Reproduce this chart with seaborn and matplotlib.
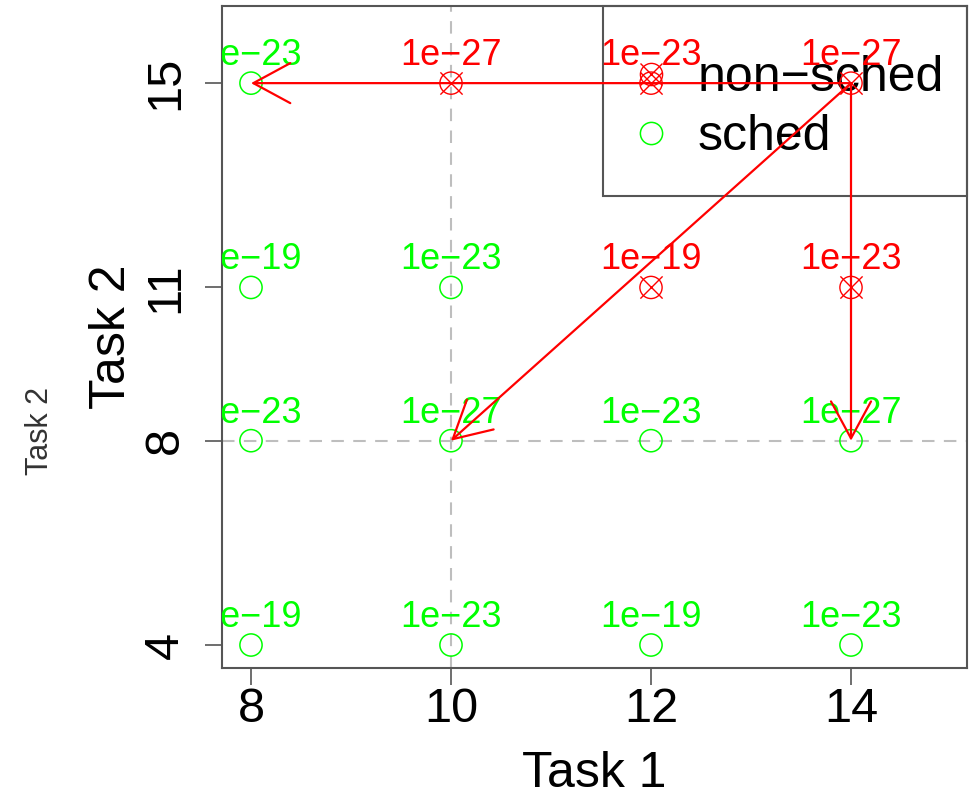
import matplotlib
matplotlib.use("Agg")
import matplotlib.pyplot as plt
from matplotlib.lines import Line2D
from matplotlib.patches import Rectangle
from matplotlib.legend_handler import HandlerTuple
import seaborn as sns
import pandas as pd

sns.set_style("ticks")
plt.rcParams['font.family'] = ['Liberation Sans', 'DejaVu Sans']
plt.rcParams['text.color'] = 'black'
plt.rcParams['axes.labelcolor'] = 'black'

# ---- data ----
sched_x = [8, 8, 8, 8, 10, 10, 10, 12, 12, 14, 14]
sched_y = [15, 11, 8, 4, 11, 8, 4, 8, 4, 8, 4]
sched_lab = ['1e\u221223', '1e\u221219', '1e\u221223', '1e\u221219', '1e\u221223', '1e\u221227',
             '1e\u221223', '1e\u221223', '1e\u221219', '1e\u221227', '1e\u221223']
nonsched_x = [10, 12, 14, 12, 14]
nonsched_y = [15, 15, 15, 11, 11]
nonsched_lab = ['1e\u221227', '1e\u221223', '1e\u221227', '1e\u221219', '1e\u221223']
arrow_start = (14, 15)
arrow_ends = [(8, 15), (10, 8), (14, 8)]
ref_x = 10
ref_y = 8
x_ticks = [8, 10, 12, 14]
y_ticks = [4, 8, 11, 15]
legend_labels = ['non\u2212sched', 'sched']

GREEN = '#00FF00'
RED = '#FF0000'

W, H = 969, 796
fig = plt.figure(figsize=(W / 100, H / 100), dpi=100)
ax = fig.add_axes([222 / W, (H - 668) / H, (967 - 222) / W, (668 - 6) / H])

sched_df = pd.DataFrame({'x': sched_x, 'y': sched_y, 'lab': sched_lab})
non_df = pd.DataFrame({'x': nonsched_x, 'y': nonsched_y, 'lab': nonsched_lab})

# reference lines
ax.axvline(ref_x, color='#BEBEBE', lw=1.5, ls=(0, (6, 4.5)), zorder=1)
ax.axhline(ref_y, color='#BEBEBE', lw=1.5, ls=(0, (6, 4.5)), zorder=1)

ms = 16  # marker size in points
sns.scatterplot(data=sched_df, x='x', y='y', marker='o', s=ms ** 2, color='none',
                edgecolor=GREEN, linewidth=1.1, ax=ax, zorder=4, legend=False)
sns.scatterplot(data=non_df, x='x', y='y', marker='o', s=ms ** 2, color='none',
                edgecolor=RED, linewidth=1.0, ax=ax, zorder=4, legend=False)
sns.scatterplot(data=non_df, x='x', y='y', marker='x', s=ms ** 2, color=RED,
                linewidth=1.0, ax=ax, zorder=4, legend=False)

for df, col in ((sched_df, GREEN), (non_df, RED)):
    for _, r in df.iterrows():
        ax.annotate(r['lab'], (r['x'], r['y']), xytext=(0, 13), textcoords='offset points',
                    ha='center', va='baseline', fontsize=26, color=col, zorder=5,
                    annotation_clip=False, clip_on=True)

for end in arrow_ends:
    ax.annotate('', xy=end, xytext=arrow_start,
                arrowprops=dict(arrowstyle='->,head_length=1.33,head_width=0.72',
                                mutation_scale=20, color=RED, lw=1.6,
                                shrinkA=0, shrinkB=0), zorder=6)

ax.set_xlim(7.71, 15.16)
ax.set_ylim(3.55, 16.51)
ax.set_xticks(x_ticks)
ax.set_yticks(y_ticks)
ax.set_xticklabels([str(v) for v in x_ticks])
ax.set_yticklabels([str(v) for v in y_ticks], rotation=90, va='center')
ax.tick_params(axis='both', length=12, width=1.2, color='#555555', labelsize=35,
               labelcolor='black', direction='out')
ax.tick_params(axis='x', pad=2)
ax.tick_params(axis='y', pad=12.5)
for s in ax.spines.values():
    s.set_visible(True)
    s.set_color('#555555')
    s.set_linewidth(1.5)

ax.set_xlabel('Task 1', fontsize=36, color='black')
ax.xaxis.set_label_coords(0.5, -(787 - 668) / 662)
ax.xaxis.label.set_va('baseline')
ax.set_ylabel('Task 2', fontsize=36, color='black')
ax.yaxis.set_label_coords(-(222 - 125) / 745, 0.5)
ax.yaxis.label.set_va('baseline')

fig.text(48 / W, 1 - 431 / H, 'Task 2', rotation=90, rotation_mode='anchor',
         ha='center', va='baseline', fontsize=22, color='#333333')

# legend
h_non = (Line2D([], [], ls='none', marker='o', ms=ms, mfc='none', mec=RED, mew=1.0),
         Line2D([], [], ls='none', marker='x', ms=ms, mec=RED, mew=1.0))
h_sched = Line2D([], [], ls='none', marker='o', ms=ms, mfc='none', mec=GREEN, mew=1.1)
leg = ax.legend([h_non, h_sched], legend_labels,
                handler_map={tuple: HandlerTuple(ndivide=1, pad=0)},
                loc='upper left', bbox_to_anchor=((626 - 222) / 745, (668 - 55) / 662),
                frameon=False, borderpad=0, borderaxespad=0, fontsize=36,
                handlelength=1.0, handletextpad=0.44, labelspacing=0.27)
leg.set_zorder(3)
for t in leg.get_texts():
    t.set_color('black')
ax.add_patch(Rectangle(((603 - 222) / 745, (668 - 196) / 662),
                       1 - (603 - 222) / 745, (196 - 6) / 662,
                       transform=ax.transAxes, fill=False, edgecolor='#555555',
                       lw=1.5, zorder=3, clip_on=False))

fig.savefig('out.png', dpi=100)
